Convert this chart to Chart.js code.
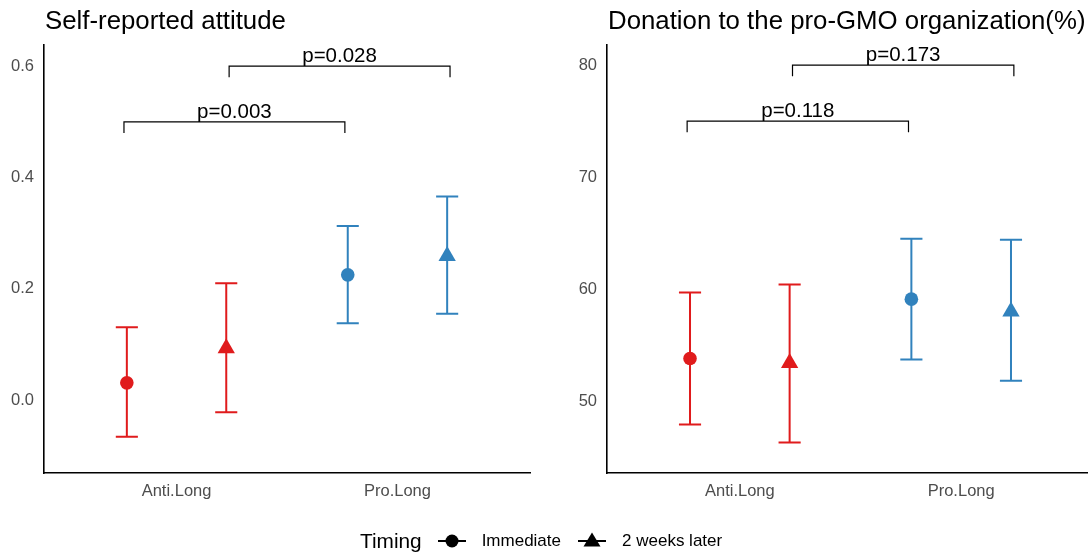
<!DOCTYPE html>
<html>
<head>
<meta charset="utf-8">
<script src="https://cdn.jsdelivr.net/npm/chart.js@4.4.1/dist/chart.umd.min.js"></script>
<style>
  html, body { margin: 0; padding: 0; background: #fff; overflow: hidden; width: 1088px; height: 552px; }
  #left { position: absolute; left: 0; top: 0; }
  #right { position: absolute; left: 544px; top: 0; }
  #legend { position: absolute; left: 360px; top: 528px; height: 26px; display: flex; align-items: center;
            font-family: "Liberation Sans", Arial, sans-serif; color: #000; white-space: nowrap; }
  #legend .title { font-size: 20.8px; margin-right: 16px; }
  #legend .label { font-size: 17px; margin-left: 16px; margin-right: 17px; }
  #legend svg { display: block; }
</style>
</head>
<body>
<canvas id="left" width="544" height="552"></canvas>
<canvas id="right" width="560" height="552"></canvas>
<div id="legend"></div>
<script>
const categories = ['Anti.Long', 'Pro.Long'];
const timings = ['Immediate', '2 weeks later'];
const groupColors = ['#E01B1C', '#3182BD'];

// Self-reported attitude
const attImmediate = [0.031, 0.225];
const attImmediateLow = [-0.066, 0.138];
const attImmediateHigh = [0.131, 0.313];
const attLater = [0.093, 0.259];
const attLaterLow = [-0.022, 0.155];
const attLaterHigh = [0.210, 0.366];
const attTicks = [0.0, 0.2, 0.4, 0.6];
const attPLabels = ['p=0.003', 'p=0.028'];
const attPHeights = [0.5, 0.6];

// Donation to the pro-GMO organization (%)
const donImmediate = [53.8, 59.1];
const donImmediateLow = [47.9, 53.7];
const donImmediateHigh = [59.7, 64.5];
const donLater = [53.4, 58.0];
const donLaterLow = [46.3, 51.8];
const donLaterHigh = [60.4, 64.4];
const donTicks = [50, 60, 70, 80];
const donPLabels = ['p=0.118', 'p=0.173'];
const donPHeights = [75, 80];

const FONT = '"Liberation Sans", Arial, sans-serif';
const dodge = 0.225;
const capHalf = 0.05;
// brackets: [from, to] positions on the category axis
const bracketSpans = [[0.762, 1.762], [1.238, 2.238]];

const decorations = {
  id: 'decorations',
  beforeDatasetsDraw(chart, args, opts) {
    const { ctx, scales: { x, y } } = chart;
    ctx.save();
    ctx.lineWidth = 2;
    opts.bars.forEach(b => {
      const px = x.getPixelForValue(b.x);
      const l = x.getPixelForValue(b.x - capHalf);
      const r = x.getPixelForValue(b.x + capHalf);
      const top = y.getPixelForValue(b.high);
      const bot = y.getPixelForValue(b.low);
      ctx.strokeStyle = b.color;
      ctx.beginPath();
      ctx.moveTo(px, top); ctx.lineTo(px, bot);
      ctx.moveTo(l, top); ctx.lineTo(r, top);
      ctx.moveTo(l, bot); ctx.lineTo(r, bot);
      ctx.stroke();
    });
    ctx.restore();
  },
  afterDatasetsDraw(chart, args, opts) {
    const { ctx, scales: { x, y }, chartArea } = chart;
    ctx.save();
    // significance brackets
    ctx.strokeStyle = '#000';
    ctx.lineWidth = 1.2;
    ctx.fillStyle = '#000';
    ctx.font = '20.5px ' + FONT;
    ctx.textAlign = 'center';
    ctx.textBaseline = 'alphabetic';
    opts.brackets.forEach(br => {
      const x0 = x.getPixelForValue(br.from);
      const x1 = x.getPixelForValue(br.to);
      const yy = y.getPixelForValue(br.y);
      const yt = y.getPixelForValue(br.y - br.tick);
      ctx.beginPath();
      ctx.moveTo(x0, yt); ctx.lineTo(x0, yy); ctx.lineTo(x1, yy); ctx.lineTo(x1, yt);
      ctx.stroke();
      ctx.fillText(br.label, (x0 + x1) / 2, yy - 4);
    });
    // panel title
    ctx.textAlign = 'left';
    ctx.font = '25.8px ' + FONT;
    ctx.fillText(opts.title, chartArea.left + 1, 28.5);
    ctx.restore();
  }
};

function makePanel(id, p) {
  const pts = (vals, off) => vals.map((v, i) => ({ x: i + 1 + off, y: v }));
  const bars = [];
  [[p.imm, p.immLow, p.immHigh, -dodge], [p.lat, p.latLow, p.latHigh, dodge]].forEach(([m, lo, hi, off]) => {
    m.forEach((v, i) => bars.push({ x: i + 1 + off, low: lo[i], high: hi[i], color: groupColors[i] }));
  });
  const brackets = p.pLabels.map((lab, i) => ({
    from: bracketSpans[i][0], to: bracketSpans[i][1], y: p.pHeights[i], tick: p.tick, label: lab
  }));
  return new Chart(document.getElementById(id), {
    type: 'scatter',
    data: {
      datasets: [
        { label: timings[0], data: pts(p.imm, -dodge), pointStyle: 'circle', pointRadius: 6.8,
          backgroundColor: groupColors, borderColor: groupColors, borderWidth: 0 },
        { label: timings[1], data: pts(p.lat, dodge), pointStyle: 'triangle', pointRadius: 10,
          backgroundColor: groupColors, borderColor: groupColors, borderWidth: 0 }
      ]
    },
    options: {
      responsive: false,
      animation: false,
      devicePixelRatio: 1,
      layout: { padding: { top: 45, left: 0, right: p.padRight, bottom: 0 } },
      plugins: {
        legend: { display: false },
        tooltip: { enabled: false },
        decorations: { bars, brackets, title: p.title }
      },
      scales: {
        x: {
          type: 'linear', min: 0.4, max: 2.6,
          grid: { display: false, drawTicks: false },
          border: { display: true, color: '#000', width: 1.6 },
          afterBuildTicks: s => { s.ticks = categories.map((c, i) => ({ value: i + 1 })); },
          afterFit: s => { s.height = 79; },
          ticks: { color: '#4D4D4D', font: { family: FONT, size: 16.5 }, padding: 9, maxRotation: 0,
                   callback: v => categories[Math.round(v) - 1] }
        },
        y: {
          type: 'linear', min: p.yMin, max: p.yMax,
          grid: { display: false, drawTicks: false },
          border: { display: true, color: '#000', width: 1.6 },
          afterBuildTicks: s => { s.ticks = p.ticks.map(v => ({ value: v })); },
          afterFit: s => { s.width = p.axisWidth; },
          ticks: { color: '#4D4D4D', font: { family: FONT, size: 16.5 }, padding: 10,
                   callback: v => p.fmt(v) }
        }
      }
    },
    plugins: [decorations]
  });
}

makePanel('left', {
  title: 'Self-reported attitude',
  imm: attImmediate, immLow: attImmediateLow, immHigh: attImmediateHigh,
  lat: attLater, latLow: attLaterLow, latHigh: attLaterHigh,
  ticks: attTicks, yMin: -0.131, yMax: 0.638, tick: 0.02,
  pLabels: attPLabels, pHeights: attPHeights,
  axisWidth: 44, padRight: 14, fmt: v => v.toFixed(1)
});

makePanel('right', {
  title: 'Donation to the pro-GMO organization(%)',
  imm: donImmediate, immLow: donImmediateLow, immHigh: donImmediateHigh,
  lat: donLater, latLow: donLaterLow, latHigh: donLaterHigh,
  ticks: donTicks, yMin: 43.57, yMax: 81.8, tick: 1.0,
  pLabels: donPLabels, pHeights: donPHeights,
  axisWidth: 63, padRight: 9, fmt: v => String(v)
});

// legend built from the series names
const legend = document.getElementById('legend');
const t = document.createElement('span');
t.className = 'title';
t.textContent = 'Timing';
legend.appendChild(t);
timings.forEach((name, i) => {
  const marker = i === 0
    ? '<circle cx="14" cy="9" r="6.5" fill="#000"/>'
    : '<polygon points="14,0.5 22.5,14.5 5.5,14.5" fill="#000"/>';
  const svg = '<svg width="28" height="18" viewBox="0 0 28 18"><line x1="0" y1="9" x2="28" y2="9" stroke="#000" stroke-width="2"/>' + marker + '</svg>';
  legend.insertAdjacentHTML('beforeend', svg);
  const s = document.createElement('span');
  s.className = 'label';
  s.textContent = name;
  legend.appendChild(s);
});
</script>
</body>
</html>
